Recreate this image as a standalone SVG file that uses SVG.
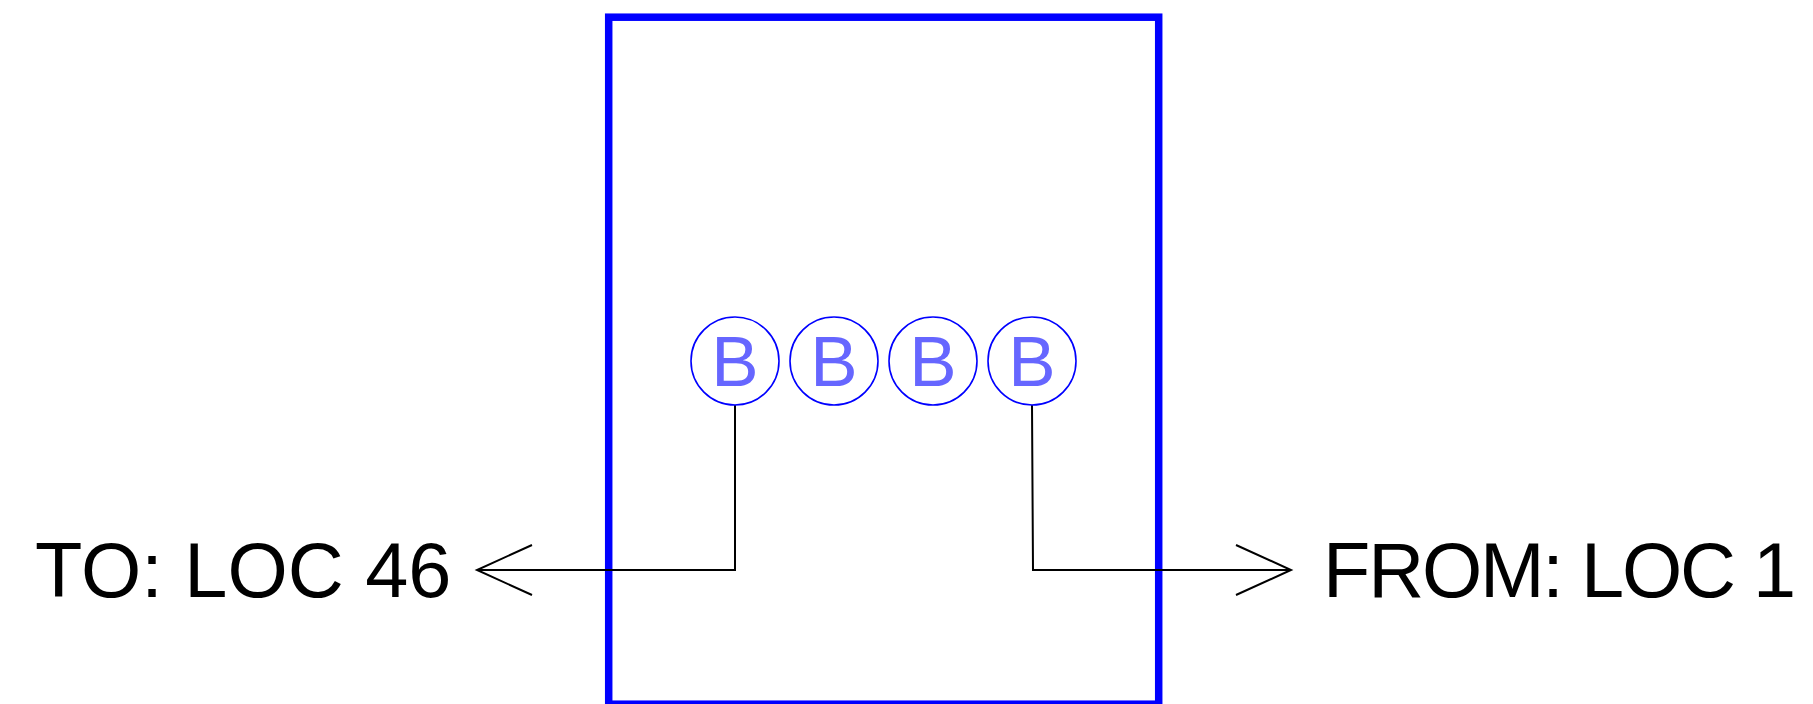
<svg xmlns="http://www.w3.org/2000/svg" width="1813" height="704" viewBox="0 0 1813 704">
<style>
.box{fill:none;stroke:#0000ff;stroke-width:7.5}
.bus{fill:#ffffff;stroke:#0000ff;stroke-width:1.6}
.bl{font-family:"Liberation Sans",Arial,sans-serif;font-size:71px;fill:#6666ff;text-anchor:middle}
.lbl{font-family:"Liberation Sans",Arial,sans-serif;font-size:77.5px;fill:#000000}
.wire{fill:none;stroke:#000000;stroke-width:2}
</style>
<rect width="1813" height="704" fill="#ffffff"/>
<g id="frame"><rect class="box" x="608.7" y="17.2" width="550" height="687"/></g>
<g id="connectors">
<polyline class="wire" points="735,405 735,570 477,570"/>
<polyline class="wire" points="532,545 477,570 532,595"/>
<polyline class="wire" points="1032,405 1033,570 1291,570"/>
<polyline class="wire" points="1236,545 1291,570 1236,595"/>
</g>
<g id="b1"><circle class="bus" cx="735" cy="361" r="44"/><text class="bl" x="735" y="386">B</text></g>
<g id="b2"><circle class="bus" cx="834" cy="361" r="44"/><text class="bl" x="834" y="386">B</text></g>
<g id="b3"><circle class="bus" cx="933" cy="361" r="44"/><text class="bl" x="933" y="386">B</text></g>
<g id="b4"><circle class="bus" cx="1032" cy="361" r="44"/><text class="bl" x="1032" y="386">B</text></g>
<g id="to"><text class="lbl" x="35" y="597">TO: LOC 46</text></g>
<g id="from"><text class="lbl" x="1323" y="597" letter-spacing="-2.2">FROM: LOC 1</text></g>
</svg>
